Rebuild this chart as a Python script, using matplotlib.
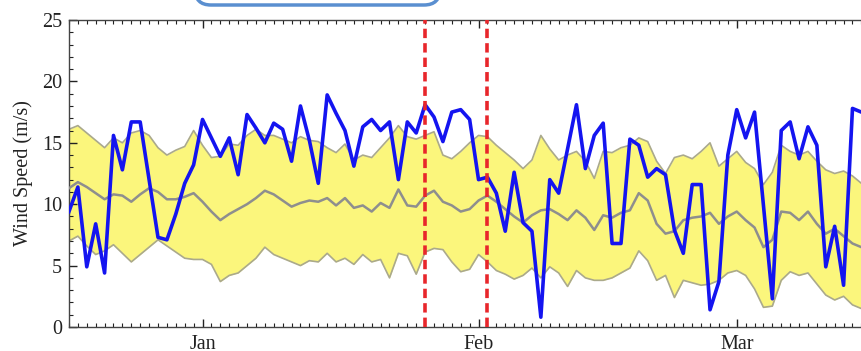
import matplotlib
matplotlib.use('Agg')
import matplotlib.pyplot as plt
import matplotlib.dates as mdates
from matplotlib.patches import FancyBboxPatch
from matplotlib.transforms import IdentityTransform
import pandas as pd

# daily values, 17 Dec 2011 .. 15 Mar 2012
start_day = '2011-12-17'

wind = [9.4, 11.4, 4.9, 8.4, 4.4, 15.6, 12.8, 16.7, 16.7, 12.0,
        7.3, 7.1, 9.2, 11.7, 13.2, 16.9, 15.4, 13.9, 15.4, 12.4,
        17.3, 16.2, 15.0, 16.6, 16.1, 13.5, 18.0, 15.2, 11.7, 18.9,
        17.4, 16.0, 13.1, 16.3, 16.9, 16.0, 16.7, 12.0, 16.7, 15.8,
        18.1, 17.1, 15.1, 17.5, 17.7, 16.9, 12.0, 12.2, 10.9, 7.8,
        12.6, 8.5, 7.8, 0.8, 12.0, 10.9, 14.5, 18.1, 12.9, 15.6,
        16.6, 6.8, 6.8, 15.3, 14.8, 12.2, 12.9, 12.4, 7.9, 6.0,
        11.6, 11.6, 1.4, 3.7, 14.0, 17.7, 15.4, 17.5, 9.9, 2.3,
        16.0, 16.7, 13.7, 16.3, 14.8, 4.9, 8.2, 3.4, 17.8, 17.5]

clim_upper = [16.1, 16.4, 15.8, 15.2, 14.6, 15.4, 15.0, 15.8, 16.0, 15.6,
              14.6, 14.0, 14.4, 14.7, 16.0, 14.8, 13.8, 13.9, 14.9, 14.8,
              15.6, 16.1, 15.6, 15.6, 15.3, 15.0, 15.5, 15.2, 15.1, 14.6,
              14.2, 14.9, 13.6, 14.0, 13.8, 14.6, 15.4, 16.4, 15.5, 15.3,
              15.6, 15.9, 14.0, 13.7, 14.3, 15.0, 15.6, 15.5, 14.8, 14.2,
              13.6, 12.9, 13.6, 15.6, 14.5, 13.6, 14.0, 14.3, 13.5, 12.1,
              14.3, 14.2, 14.6, 14.8, 15.4, 15.1, 13.5, 12.5, 13.8, 14.0,
              13.7, 14.3, 15.0, 13.1, 13.7, 14.3, 13.4, 12.9, 11.6, 12.6,
              14.8, 14.3, 14.0, 14.3, 13.5, 12.8, 12.5, 12.7, 12.3, 11.7]

clim_lower = [7.0, 7.4, 6.6, 5.9, 6.2, 6.7, 6.0, 5.3, 5.9, 6.5,
              7.1, 6.6, 6.1, 5.6, 5.5, 5.5, 5.1, 3.7, 4.2, 4.4,
              5.0, 5.6, 6.5, 5.9, 5.6, 5.3, 5.0, 5.4, 5.3, 6.0,
              5.3, 5.6, 5.1, 5.9, 5.3, 5.5, 4.0, 6.0, 5.8, 4.3,
              6.1, 6.4, 6.3, 5.3, 4.5, 4.7, 5.9, 5.3, 4.6, 4.3,
              3.9, 4.2, 4.8, 4.0, 4.9, 4.4, 3.3, 4.6, 4.0, 3.8,
              3.8, 4.0, 4.4, 4.8, 6.2, 5.4, 3.8, 4.2, 2.4, 3.8,
              3.6, 3.4, 3.5, 3.8, 4.4, 4.6, 4.2, 3.1, 1.6, 1.7,
              3.8, 4.5, 4.2, 4.4, 3.5, 2.6, 2.2, 2.5, 1.8, 1.5]

clim_median = [11.3, 11.8, 11.4, 10.9, 10.4, 10.8, 10.7, 10.2, 10.8, 11.3,
               11.0, 10.4, 10.4, 10.6, 10.9, 10.2, 9.4, 8.7, 9.2, 9.6,
               10.0, 10.5, 11.1, 10.8, 10.3, 9.8, 10.1, 10.3, 10.2, 10.5,
               9.9, 10.5, 9.7, 9.9, 9.4, 10.1, 9.7, 11.2, 9.9, 9.8,
               10.7, 11.1, 10.2, 9.9, 9.4, 9.6, 10.3, 10.7, 10.2, 9.6,
               9.0, 8.5, 9.1, 9.5, 9.6, 9.2, 8.7, 9.5, 8.9, 7.9,
               9.1, 8.9, 9.3, 9.5, 10.9, 10.3, 8.4, 7.6, 7.8, 8.7,
               8.9, 9.0, 9.3, 8.4, 9.0, 9.4, 8.7, 8.1, 6.5, 7.1,
               9.4, 9.3, 8.7, 9.4, 8.4, 7.6, 8.0, 7.4, 6.8, 6.5]

event_days = ['2012-01-26', '2012-02-02']
month_labels = ['Jan', 'Feb', 'Mar']

days = pd.date_range(start_day, periods=len(wind), freq='D')

plt.rcParams['font.family'] = ['Liberation Serif', 'DejaVu Serif']

fig = plt.figure(figsize=(8.61, 3.51), dpi=100)
ax = fig.add_axes([0.0801, 0.0684, 0.925, 0.8746])

# climatology band
ax.fill_between(days, clim_lower, clim_upper, color='#fbf67c', lw=0, zorder=1)
ax.plot(days, clim_upper, color='#aaa98c', lw=1.2, zorder=2)
ax.plot(days, clim_lower, color='#aaa98c', lw=1.2, zorder=2)
ax.plot(days, clim_median, color='#8e8e8e', lw=1.8, zorder=3)

ax.plot(days, wind, color='#1414f0', lw=2.6, zorder=4)

for d in event_days:
    ax.axvline(pd.Timestamp(d), color='#e8262b', lw=2.6,
               linestyle=(0, (2.6, 1.4)), zorder=5)

ax.set_ylim(0, 25)
ax.set_xlim(days[0], days[0] + pd.Timedelta(days=89.45))

ax.xaxis.set_major_locator(mdates.MonthLocator())
ax.xaxis.set_major_formatter(mdates.DateFormatter('%b'))
ax.xaxis.set_minor_locator(mdates.DayLocator())
ax.set_yticks([0, 5, 10, 15, 20, 25])
ax.set_yticks(range(0, 26), minor=True)

ax.tick_params(which='both', direction='in', top=True, right=False,
               labelsize=14.5, colors='#222222')
ax.tick_params(which='major', length=6, width=1)
ax.tick_params(which='minor', length=3, width=0.8)
ax.tick_params(axis='x', which='major', pad=6)
ax.tick_params(axis='y', which='major', pad=5)

for s in ['left', 'bottom', 'top']:
    ax.spines[s].set_color('#444444')
    ax.spines[s].set_linewidth(1.0)
ax.spines['right'].set_visible(False)

ax.set_ylabel('Wind Speed (m/s)', fontsize=14.5, color='#222222')
ax.yaxis.set_label_coords(-0.045, 0.5)

# bottom edge of the callout box above the chart
box = FancyBboxPatch((195, 346), 245, 40,
                     boxstyle='round,pad=0,rounding_size=16',
                     transform=IdentityTransform(), facecolor='white',
                     edgecolor='#5a8fd0', lw=2.5, zorder=10)
fig.add_artist(box)

fig.savefig('out.png', dpi=100)
